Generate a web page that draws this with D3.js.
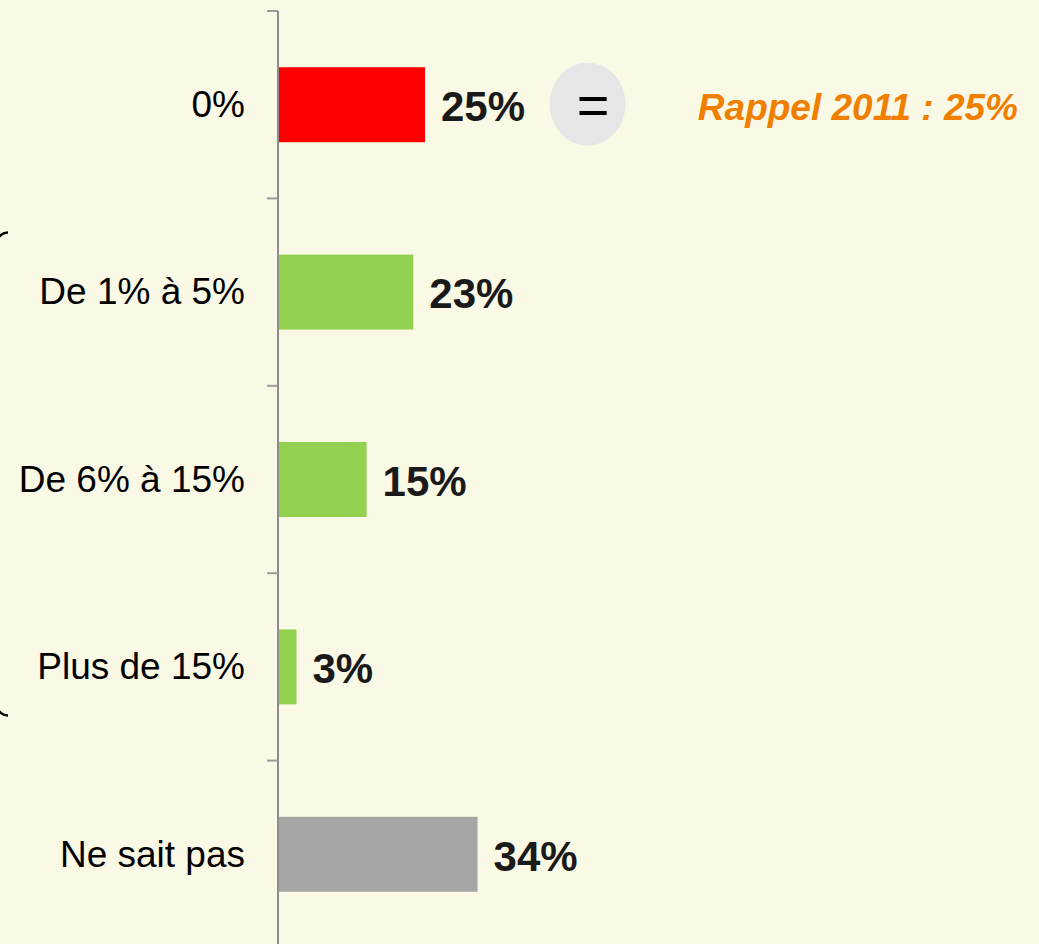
<!DOCTYPE html>
<html><head><meta charset="utf-8">
<script src="https://cdn.jsdelivr.net/npm/d3@7"></script>
<style>
html,body{margin:0;padding:0;background:#FAF9E6;}
svg{display:block;}
text{font-family:Arial,"Liberation Sans",sans-serif;}
</style></head>
<body>
<svg id="chart" width="1039" height="944"></svg>
<script>
const categories = ["0%", "De 1% à 5%", "De 6% à 15%", "Plus de 15%", "Ne sait pas"];
const values = [25, 23, 15, 3, 34];
const colors = ["#FF0000", "#92D050", "#92D050", "#92D050", "#A6A6A6"];
const valueLabels = ["25%", "23%", "15%", "3%", "34%"];
const reminderText = "Rappel 2011 : 25%";
const trendSymbol = "=";

const svg = d3.select("#chart");
const W = 1039, H = 944;
svg.append("rect").attr("width", W).attr("height", H).attr("fill", "#FAF9E6");

const y = d3.scaleBand().domain(categories).range([11, 948]).paddingInner(0.6).paddingOuter(0.3);
const x = d3.scaleLinear().domain([0, 100]).range([279, 279 + 584]);
const step = y.step();

// bars
svg.selectAll("rect.bar").data(categories).join("rect")
  .attr("class", "bar")
  .attr("x", x(0))
  .attr("y", d => y(d))
  .attr("width", (d, i) => x(values[i]) - x(0))
  .attr("height", y.bandwidth())
  .attr("fill", (d, i) => colors[i]);

// axis line
svg.append("line").attr("x1", 278).attr("x2", 278).attr("y1", 11).attr("y2", H)
  .attr("stroke", "#8C8C8C").attr("stroke-width", 2);
// ticks at band boundaries
const boundaries = categories.map(c => y(c) - step * y.paddingOuter());
svg.selectAll("line.tick").data(boundaries).join("line")
  .attr("class", "tick")
  .attr("x1", 267).attr("x2", 278)
  .attr("y1", d => d).attr("y2", d => d)
  .attr("stroke", "#9A9A9A").attr("stroke-width", 2);

// category labels
svg.selectAll("text.cat").data(categories).join("text")
  .attr("class", "cat")
  .attr("x", 245)
  .attr("y", d => y(d) + y.bandwidth() / 2)
  .attr("dy", "0.33em")
  .attr("text-anchor", "end")
  .attr("font-size", 37)
  .attr("fill", "#000")
  .text(d => d);

// value labels
svg.selectAll("text.val").data(categories).join("text")
  .attr("class", "val")
  .attr("x", (d, i) => x(values[i]) + 16)
  .attr("y", d => y(d) + y.bandwidth() / 2)
  .attr("dy", "0.39em")
  .attr("font-size", 42)
  .attr("font-weight", "bold")
  .attr("fill", "#1A1A1A")
  .text((d, i) => valueLabels[i]);

// trend circle
const cy0 = y(categories[0]) + y.bandwidth() / 2;
svg.append("ellipse").attr("cx", 587.5).attr("cy", cy0 - 0.5).attr("rx", 38).attr("ry", 41.5)
  .attr("fill", "#E6E6E6");
svg.append("text").attr("x", 593).attr("y", cy0).attr("dy", "0.34em")
  .attr("text-anchor", "middle").attr("font-size", 56).attr("fill", "#000")
  .text(trendSymbol);

// reminder
svg.append("text").attr("x", 1018).attr("y", cy0).attr("dy", "0.42em")
  .attr("text-anchor", "end").attr("font-size", 37)
  .attr("font-weight", "bold").attr("font-style", "italic")
  .attr("fill", "#F07F00")
  .text(reminderText);

// brace at left
const bTop = y(categories[1]) - step * 0.3 + 34;
const bBot = y(categories[3]) + y.bandwidth() + 11;
svg.append("path")
  .attr("d", `M8,${bTop} C2,${bTop} -4,${bTop+5} -4,${bTop+14} L-4,${bBot-14} C-4,${bBot-5} 2,${bBot} 8,${bBot}`)
  .attr("fill", "none").attr("stroke", "#000").attr("stroke-width", 2.5);
</script>
</body></html>
